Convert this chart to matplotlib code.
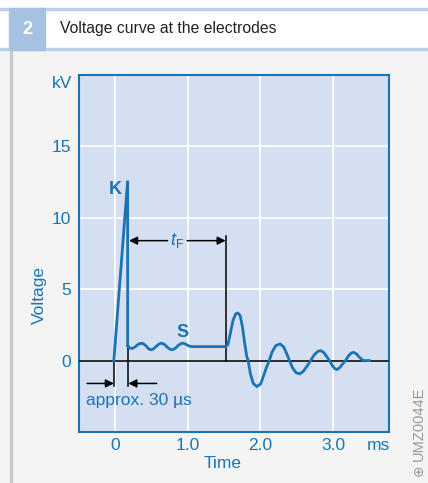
import matplotlib
matplotlib.use("Agg")
import matplotlib.pyplot as plt
from matplotlib.patches import Rectangle

plt.rcParams["font.family"] = ["Liberation Sans", "DejaVu Sans"]
plt.rcParams["mathtext.fontset"] = "custom"
plt.rcParams["mathtext.rm"] = "Liberation Sans"
plt.rcParams["mathtext.it"] = "Liberation Sans:italic"

# data (time in ms, voltage in kV)
spike_t = [-0.02, 0.17, 0.17]
spike_v = [0.0, 12.6, 1.05]

spark_t = [0.17, 0.20, 0.23, 0.27, 0.31, 0.35, 0.38, 0.42, 0.46, 0.49, 0.52, 0.56,
           0.60, 0.64, 0.68, 0.72, 0.76, 0.79, 0.83, 0.87, 0.91, 0.94, 0.98, 1.02,
           1.06, 1.52]
spark_v = [1.05, 0.88, 0.85, 0.95, 1.12, 1.21, 1.20, 1.05, 0.82, 0.76, 0.80, 0.98,
           1.16, 1.22, 1.12, 0.92, 0.78, 0.76, 0.88, 1.08, 1.20, 1.22, 1.12, 1.01,
           0.98, 0.98]

decay_t = [1.52, 1.55, 1.58, 1.62, 1.66, 1.69, 1.72, 1.75, 1.78, 1.81, 1.83, 1.86,
           1.90, 1.95, 2.00, 2.04, 2.08, 2.12, 2.16, 2.21, 2.27, 2.32, 2.36, 2.40,
           2.44, 2.49, 2.54, 2.59, 2.64, 2.69, 2.74, 2.79, 2.83, 2.87, 2.91, 2.95,
           2.99, 3.02, 3.05, 3.09, 3.13, 3.17, 3.21, 3.25, 3.28, 3.32, 3.36, 3.40,
           3.43, 3.50]
decay_v = [0.98, 1.10, 1.80, 2.80, 3.28, 3.33, 3.15, 2.40, 1.30, 0.30, 0.00, -0.90,
           -1.60, -1.82, -1.65, -1.10, -0.50, 0.00, 0.60, 1.05, 1.17, 0.95, 0.50, 0.00,
           -0.50, -0.85, -0.93, -0.75, -0.40, 0.00, 0.40, 0.65, 0.70, 0.58, 0.30, 0.00,
           -0.35, -0.55, -0.63, -0.50, -0.25, 0.00, 0.32, 0.53, 0.58, 0.48, 0.25, 0.06,
           0.00, 0.00]

x_ticks = [0, 1, 2, 3]
x_labels = ["0", "1.0", "2.0", "3.0"]
y_ticks = [0, 5, 10, 15]
y_labels = ["0", "5", "10", "15"]

t_ignition = -0.02
t_spark_start = 0.17
t_spark_end = 1.52

blue = "#1a74b3"
W, H = 428, 483

fig = plt.figure(figsize=(W / 100, H / 100), dpi=100, facecolor="white")


def px(x, y, w, h):
    # pixel box (from top-left) to figure fraction
    return (x / W, 1 - (y + h) / H, w / W, h / H)


def box(x, y, w, h, color, z):
    b = px(x, y, w, h)
    fig.add_artist(Rectangle(b[:2], b[2], b[3], transform=fig.transFigure,
                             color=color, zorder=z))


# header and panel background
box(0, 49, W, H - 49, "#f4f4f4", 0)
box(0, 8, W, 2, "#bcd0e8", 1)
box(0, 48, W, 2, "#bcd0e8", 1)
box(9, 8, 36, 42, "#a6c2e2", 2)
box(10, 50, 2, H - 50, "#c8c8c8", 1)
fig.text(27 / W, 1 - 29 / H, "2", color="white", fontsize=13, fontweight="bold",
         ha="center", va="center")
fig.text(60 / W, 1 - 29 / H, "Voltage curve at the electrodes", color="#222222",
         fontsize=11.3, ha="left", va="center")

ax = fig.add_axes([79 / W, 1 - 432 / H, 310 / W, 357 / H])
ax.set_facecolor("#d4e0f1")
ax.set_xlim(-0.5, 3.77)
ax.set_ylim(-5, 20)
ax.set_xticks(x_ticks)
ax.set_xticklabels(x_labels)
ax.set_yticks(y_ticks)
ax.set_yticklabels(y_labels)
ax.tick_params(length=0, colors=blue, labelsize=12.5, pad=6)
ax.tick_params(axis="x", pad=4)
ax.grid(True, color="white", lw=1.3)
ax.set_axisbelow(True)
for s in ax.spines.values():
    s.set_color(blue)
    s.set_linewidth(1.5)

ax.axhline(0, color="#1b1b1b", lw=1.3, zorder=3)
ax.plot(spike_t, spike_v, color=blue, lw=2, zorder=4, solid_joinstyle="miter")
ax.plot(spark_t, spark_v, color=blue, lw=2, zorder=4, solid_joinstyle="round")
ax.plot(decay_t, decay_v, color=blue, lw=2, zorder=4, solid_joinstyle="round")

# markers and dimension lines
ax.plot([t_spark_end, t_spark_end], [0, 8.75], color="black", lw=1.1, zorder=3)
ax.plot([t_ignition, t_ignition], [0, -1.75], color="black", lw=1.1, zorder=3)
ax.plot([t_spark_start + 0.01] * 2, [0.95, -1.75], color="black", lw=1.1, zorder=3)
arrow = dict(arrowstyle="-|>", color="black", lw=1.1, mutation_scale=12,
             shrinkA=0, shrinkB=0)
ax.annotate("", xy=(t_spark_start + 0.02, 8.4), xytext=(0.72, 8.4), arrowprops=arrow)
ax.annotate("", xy=(t_spark_end, 8.4), xytext=(0.99, 8.4), arrowprops=arrow)
ax.text(0.845, 8.4, r"$t_\mathrm{F}$", color=blue, fontsize=13, ha="center",
        va="center")
ax.annotate("", xy=(t_ignition, -1.6), xytext=(-0.39, -1.6), arrowprops=arrow)
ax.annotate("", xy=(t_spark_start + 0.01, -1.6), xytext=(0.57, -1.6), arrowprops=arrow)
ax.text(-0.4, -2.8, "approx. 30 µs", color=blue, fontsize=12.5, ha="left",
        va="center")

ax.text(0.0, 12.0, "K", color=blue, fontsize=13, fontweight="bold", ha="center",
        va="center")
ax.text(0.92, 2.0, "S", color=blue, fontsize=13, fontweight="bold", ha="center",
        va="center")

# unit and axis labels
fig.text(72 / W, 1 - 84 / H, "kV", color=blue, fontsize=12.5, ha="right", va="center")
fig.text(390 / W, 1 - 450 / H, "ms", color=blue, fontsize=12.5, ha="right",
         va="baseline")
fig.text(223 / W, 1 - 464 / H, "Time", color=blue, fontsize=12.5, ha="center",
         va="center")
fig.text(39 / W, 1 - 295 / H, "Voltage", color=blue, fontsize=12.5, rotation=90,
         ha="center", va="center")
fig.text(419 / W, 1 - 424 / H, "UMZ0044E", color="#999999", fontsize=10.5,
         rotation=90, ha="center", va="center")
fig.text(419 / W, 1 - 470 / H, "⊕", color="#999999", fontsize=10, rotation=90,
         ha="center", va="center", family="DejaVu Sans")

fig.savefig("out.png", dpi=100, facecolor=fig.get_facecolor())
